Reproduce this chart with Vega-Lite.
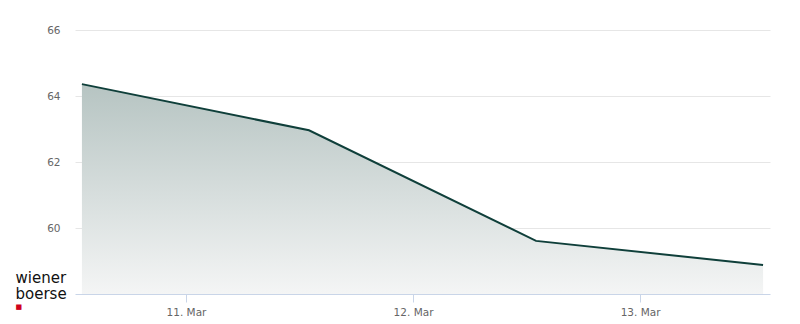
{
  "$schema": "https://vega.github.io/schema/vega-lite/v6.json",
  "width": 695,
  "height": 264,
  "autosize": "none",
  "padding": {"left": 75, "top": 30, "right": 30, "bottom": 30},
  "background": "white",
  "config": {"view": {"stroke": null}, "font": "DejaVu Sans"},
  "data": {"values": [
    {"date": "2025-03-10T13:00:00Z", "price": 64.36},
    {"date": "2025-03-11T13:00:00Z", "price": 62.96},
    {"date": "2025-03-12T13:00:00Z", "price": 59.61},
    {"date": "2025-03-13T13:00:00Z", "price": 58.88}
  ]},
  "encoding": {
    "x": {
      "field": "date", "type": "temporal",
      "scale": {"type": "utc", "domain": ["2025-03-10T12:16:00Z", "2025-03-13T13:44:00Z"]},
      "axis": {
        "values": ["2025-03-11T00:00:00Z", "2025-03-12T00:00:00Z", "2025-03-13T00:00:00Z"],
        "labelExpr": "utcFormat(datum.value, '%-d. %b')", "zindex": 1,
        "grid": false, "domainColor": "#c9d5e8", "tickColor": "#c9d5e8", "tickSize": 8,
        "labelColor": "#666666", "labelFontSize": 10.5, "labelPadding": 5,
        "title": "■", "titleColor": "#d0021b", "titleFontSize": 7, "titleFontWeight": "normal",
        "titleX": -60, "titleY": 12, "titleAlign": "left", "titleBaseline": "middle"
      }
    },
    "y": {
      "field": "price", "type": "quantitative",
      "scale": {"domain": [58, 66], "nice": false, "zero": false},
      "axis": {
        "values": [60, 62, 64, 66], "domain": false, "ticks": false,
        "gridColor": "#e6e6e6", "labelColor": "#666666", "labelFontSize": 10.5, "labelPadding": 15,
        "title": ["wiener", "boerse"], "titleAngle": 0, "titleX": -60, "titleY": 252,
        "titleAlign": "left", "titleBaseline": "alphabetic", "titleFontSize": 15,
        "titleFontWeight": 500, "titleColor": "#111111", "titleLineHeight": 16
      }
    }
  },
  "layer": [
    {
      "mark": {
        "type": "area",
        "color": {
          "gradient": "linear", "x1": 0, "y1": 0, "x2": 0, "y2": 1,
          "stops": [
            {"offset": 0, "color": "#b6c4c2"},
            {"offset": 1, "color": "#f4f5f5"}
          ]
        }
      },
      "encoding": {"y2": {"datum": 58}}
    },
    {
      "mark": {"type": "line", "color": "#0f3f3a", "strokeWidth": 2}
    }
  ]
}
